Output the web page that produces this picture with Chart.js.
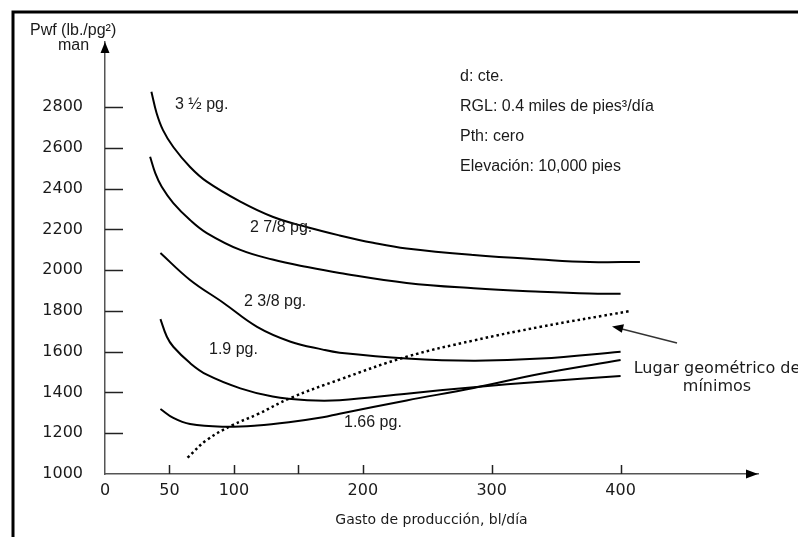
<!DOCTYPE html>
<html>
<head>
<meta charset="utf-8">
<script src="https://cdn.jsdelivr.net/npm/chart.js@4.4.1/dist/chart.umd.min.js"></script>
<style>
  html, body { margin: 0; padding: 0; background: #fff; }
  #wrap { width: 798px; height: 537px; }
</style>
</head>
<body>
<div id="wrap"><canvas id="chart" width="798" height="537"></canvas></div>
<script>
// ticks
const yTicks = [1000, 1200, 1400, 1600, 1800, 2000, 2200, 2400, 2600, 2800];
const xTicks = [0, 50, 100, 150, 200, 300, 400];
const xTickLabels = ['0', '50', '100', '', '200', '300', '400'];

// 3 1/2 pg.
const gasto35 = [36, 40, 45, 53, 66, 79, 105, 130, 157, 182, 208, 234, 286, 338, 376, 415];
const pwf35 = [2875, 2771, 2687, 2604, 2506, 2434, 2336, 2262, 2210, 2170, 2134, 2106, 2074, 2052, 2040, 2040];

// 2 7/8 pg.
const gasto278 = [35, 39, 44, 53, 66, 79, 105, 130, 157, 182, 234, 286, 338, 376, 400];
const pwf278 = [2556, 2476, 2409, 2329, 2246, 2182, 2099, 2052, 2015, 1986, 1937, 1911, 1894, 1885, 1884];

// 2 3/8 pg.
const gasto238 = [43, 66, 92, 118, 144, 169, 182, 234, 286, 338, 400];
const pwf238 = [2084, 1952, 1839, 1722, 1649, 1610, 1595, 1567, 1556, 1566, 1600];

// 1.9 pg.
const gasto19 = [43, 48, 53, 66, 79, 105, 130, 157, 182, 234, 286, 338, 400];
const pwf19 = [1760, 1673, 1624, 1544, 1487, 1420, 1380, 1362, 1362, 1394, 1426, 1453, 1481];

// 1.66 pg.
const gasto166 = [43, 53, 66, 92, 118, 144, 169, 182, 234, 286, 338, 400];
const pwf166 = [1319, 1275, 1245, 1232, 1238, 1255, 1278, 1296, 1361, 1422, 1492, 1559];

// lugar geometrico de minimos
const gastoMin = [64, 79, 99, 118, 144, 182, 234, 286, 338, 407];
const pwfMin = [1080, 1167, 1240, 1292, 1373, 1463, 1575, 1655, 1722, 1799];

const toPoints = (xs, ys) => xs.map((x, i) => ({ x: x, y: ys[i] }));

const curve = (label, xs, ys) => ({
  label: label,
  data: toPoints(xs, ys),
  borderColor: '#000',
  borderWidth: 2,
  pointRadius: 0,
  fill: false,
  tension: 0.4,
});

const AXIS = '#555';
const TEXT = '#1a1a1a';

const extras = {
  id: 'extras',
  afterDraw(chart) {
    const ctx = chart.ctx;
    const x = chart.scales.x;
    const y = chart.scales.y;
    const { left, right, top, bottom } = chart.chartArea;
    ctx.save();

    // frame
    ctx.strokeStyle = '#000';
    ctx.lineWidth = 3;
    ctx.beginPath();
    ctx.moveTo(13, 537);
    ctx.lineTo(13, 12);
    ctx.lineTo(798, 12);
    ctx.stroke();

    // inside tick marks
    ctx.strokeStyle = '#222';
    ctx.lineWidth = 1.5;
    yTicks.slice(1).forEach(v => {
      const py = Math.round(y.getPixelForValue(v)) + 0.5;
      ctx.beginPath();
      ctx.moveTo(left, py);
      ctx.lineTo(left + 18, py);
      ctx.stroke();
    });
    xTicks.slice(1).forEach(v => {
      const px = Math.round(x.getPixelForValue(v)) + 0.5;
      ctx.beginPath();
      ctx.moveTo(px, bottom);
      ctx.lineTo(px, bottom - 9);
      ctx.stroke();
    });

    // arrow heads
    ctx.fillStyle = '#000';
    ctx.beginPath();
    ctx.moveTo(left, top);
    ctx.lineTo(left - 4.5, top + 11);
    ctx.lineTo(left + 4.5, top + 11);
    ctx.closePath();
    ctx.fill();
    ctx.beginPath();
    ctx.moveTo(right, bottom);
    ctx.lineTo(right - 12, bottom - 4.5);
    ctx.lineTo(right - 12, bottom + 4.5);
    ctx.closePath();
    ctx.fill();

    // axis title
    ctx.fillStyle = TEXT;
    ctx.textBaseline = 'middle';
    ctx.textAlign = 'left';
    ctx.font = '16px "Liberation Sans", Arial, sans-serif';
    ctx.fillText('Pwf (lb./pg²)', 30, 31);
    ctx.fillText('man', 58, 46);

    // conditions
    ctx.fillText('d: cte.', 460, 77);
    ctx.fillText('RGL: 0.4 miles de pies³/día', 460, 107);
    ctx.fillText('Pth: cero', 460, 137);
    ctx.fillText('Elevación: 10,000 pies', 460, 167);

    // curve labels
    ctx.fillText('3 ½ pg.', 175, 105);
    ctx.fillText('2 7/8 pg.', 250, 228);
    ctx.fillText('2 3/8 pg.', 244, 302);
    ctx.fillText('1.9 pg.', 209, 350);
    ctx.fillText('1.66 pg.', 344, 423);

    // locus label + arrow
    ctx.font = '16px "DejaVu Sans", Verdana, sans-serif';
    ctx.textAlign = 'center';
    ctx.fillText('Lugar geométrico de', 717, 369);
    ctx.fillText('mínimos', 717, 387);

    ctx.strokeStyle = '#333';
    ctx.lineWidth = 1.3;
    ctx.beginPath();
    ctx.moveTo(677, 343);
    ctx.lineTo(618, 328);
    ctx.stroke();
    ctx.fillStyle = '#000';
    ctx.beginPath();
    ctx.moveTo(612, 326.5);
    ctx.lineTo(624, 324.2);
    ctx.lineTo(621.8, 332.8);
    ctx.closePath();
    ctx.fill();

    ctx.restore();
  }
};

new Chart(document.getElementById('chart'), {
  type: 'line',
  data: {
    datasets: [
      curve('3 1/2 pg.', gasto35, pwf35),
      curve('2 7/8 pg.', gasto278, pwf278),
      curve('2 3/8 pg.', gasto238, pwf238),
      curve('1.9 pg.', gasto19, pwf19),
      curve('1.66 pg.', gasto166, pwf166),
      {
        label: 'Lugar geométrico de mínimos',
        data: toPoints(gastoMin, pwfMin),
        borderColor: '#000',
        borderWidth: 2.5,
        borderDash: [2.5, 3],
        pointRadius: 0,
        fill: false,
        tension: 0.4,
      },
    ],
  },
  options: {
    responsive: false,
    animation: false,
    devicePixelRatio: 1,
    layout: { padding: { left: 0, top: 42, right: 40, bottom: 0 } },
    plugins: {
      legend: { display: false },
      tooltip: { enabled: false },
    },
    scales: {
      x: {
        type: 'linear',
        min: 0,
        max: 506.6,
        afterBuildTicks: s => { s.ticks = xTicks.map(v => ({ value: v })); },
        afterFit: s => { s.height = 63; },
        grid: { display: false, drawTicks: false },
        border: { display: true, color: AXIS, width: 1.5 },
        ticks: {
          autoSkip: false,
          maxRotation: 0,
          padding: 7,
          color: TEXT,
          font: { family: '"DejaVu Sans", Verdana, sans-serif', size: 16 },
          callback: (v, i) => xTickLabels[i],
        },
        title: {
          display: true,
          text: 'Gasto de producción, bl/día',
          color: TEXT,
          padding: { top: 0, bottom: 8 },
          font: { family: '"DejaVu Sans", Verdana, sans-serif', size: 14 },
        },
      },
      y: {
        type: 'linear',
        min: 1000,
        max: 3119,
        afterBuildTicks: s => { s.ticks = yTicks.map(v => ({ value: v })); },
        afterFit: s => { s.width = 105; },
        grid: { display: false, drawTicks: false },
        border: { display: true, color: AXIS, width: 1.5 },
        ticks: {
          padding: 22,
          color: TEXT,
          font: { family: '"DejaVu Sans", Verdana, sans-serif', size: 16 },
          callback: v => String(v),
        },
      },
    },
  },
  plugins: [extras],
});
</script>
</body>
</html>
